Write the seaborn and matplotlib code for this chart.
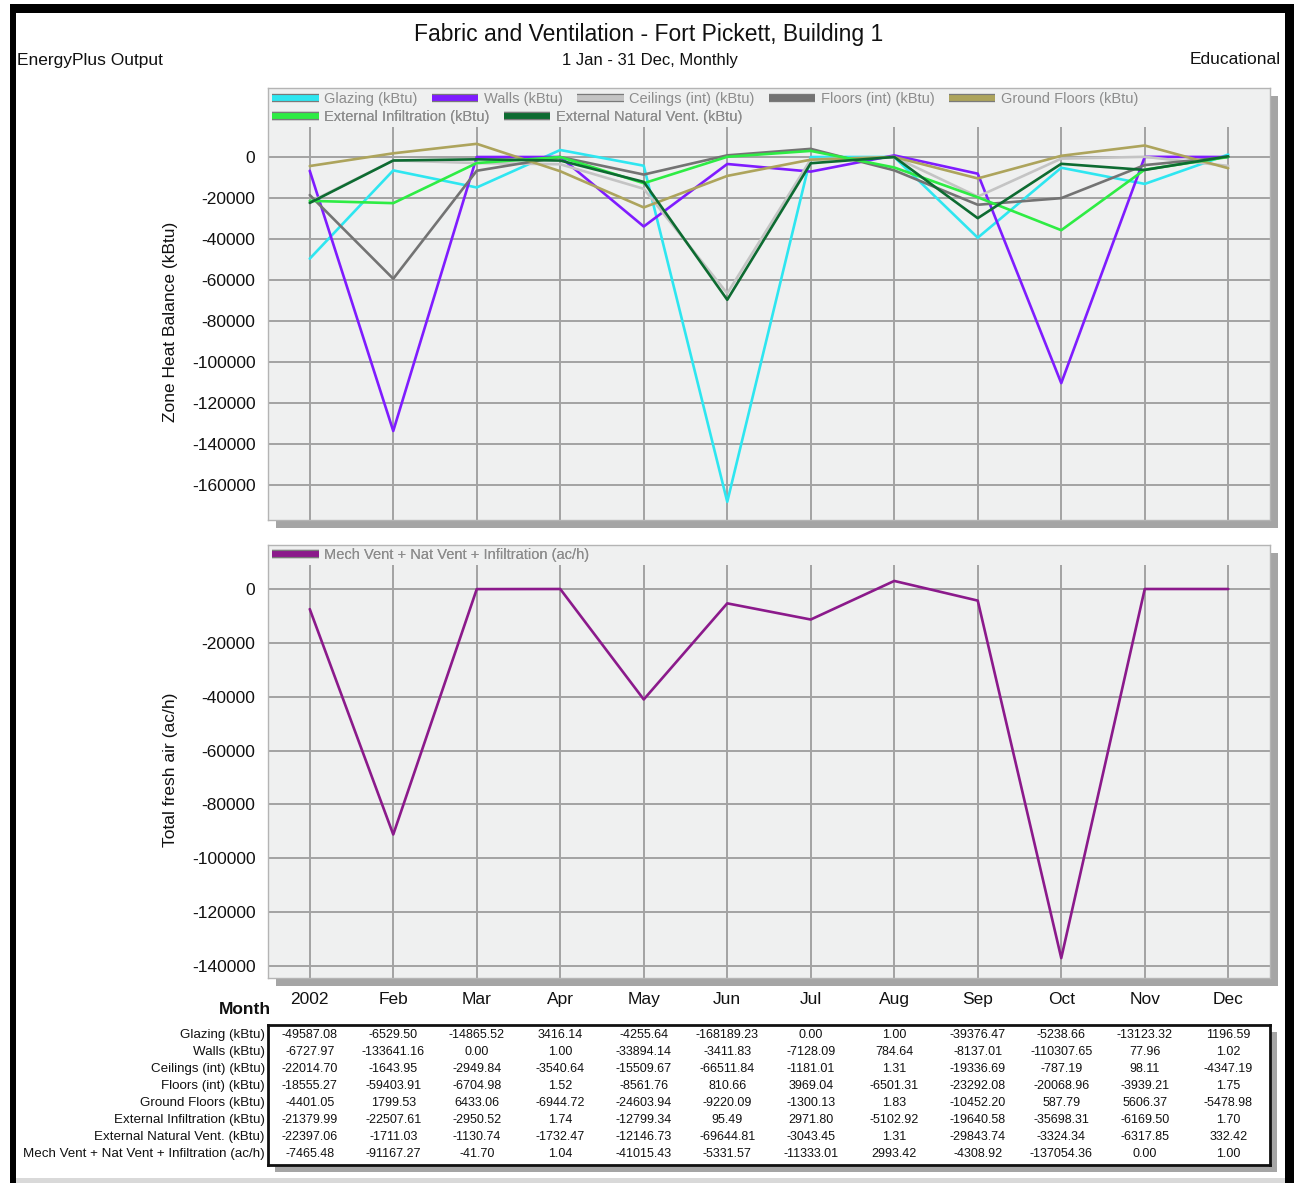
import matplotlib
matplotlib.use("Agg")
import matplotlib.pyplot as plt
import matplotlib.patheffects as pe
from matplotlib.patches import Rectangle
from matplotlib.lines import Line2D
from matplotlib.transforms import blended_transform_factory
import pandas as pd
import seaborn as sns

# ---- data -------------------------------------------------------------
months = ["2002", "Feb", "Mar", "Apr", "May", "Jun", "Jul", "Aug", "Sep", "Oct", "Nov", "Dec"]

glazing = [-49587.08, -6529.50, -14865.52, 3416.14, -4255.64, -168189.23,
           0.00, 1.00, -39376.47, -5238.66, -13123.32, 1196.59]
walls = [-6727.97, -133641.16, 0.00, 1.00, -33894.14, -3411.83,
         -7128.09, 784.64, -8137.01, -110307.65, 77.96, 1.02]
ceilings = [-22014.70, -1643.95, -2949.84, -3540.64, -15509.67, -66511.84,
            -1181.01, 1.31, -19336.69, -787.19, 98.11, -4347.19]
floors = [-18555.27, -59403.91, -6704.98, 1.52, -8561.76, 810.66,
          3969.04, -6501.31, -23292.08, -20068.96, -3939.21, 1.75]
ground_floors = [-4401.05, 1799.53, 6433.06, -6944.72, -24603.94, -9220.09,
                 -1300.13, 1.83, -10452.20, 587.79, 5606.37, -5478.98]
ext_infiltration = [-21379.99, -22507.61, -2950.52, 1.74, -12799.34, 95.49,
                    2971.80, -5102.92, -19640.58, -35698.31, -6169.50, 1.70]
ext_nat_vent = [-22397.06, -1711.03, -1130.74, -1732.47, -12146.73, -69644.81,
                -3043.45, 1.31, -29843.74, -3324.34, -6317.85, 332.42]
fresh_air = [-7465.48, -91167.27, -41.70, 1.04, -41015.43, -5331.57,
             -11333.01, 2993.42, -4308.92, -137054.36, 0.00, 1.00]

top_names = ["Glazing (kBtu)", "Walls (kBtu)", "Ceilings (int) (kBtu)", "Floors (int) (kBtu)",
             "Ground Floors (kBtu)", "External Infiltration (kBtu)", "External Natural Vent. (kBtu)"]
top_series = [glazing, walls, ceilings, floors, ground_floors, ext_infiltration, ext_nat_vent]
bottom_name = "Mech Vent + Nat Vent + Infiltration (ac/h)"

top_colors = ["#2ee6f0", "#7f1cff", "#c4c4c4", "#737373", "#ada45c", "#2eec44", "#0d6b31"]
bottom_color = "#8b1a8b"

# ---- style ------------------------------------------------------------
W, H = 1294, 1183
BG = "#eff0f0"
GRID = "#a2a2a2"
sns.set_theme(style="whitegrid")
plt.rcParams["font.family"] = ["Liberation Sans", "DejaVu Sans"]
plt.rcParams["axes.facecolor"] = BG

fig = plt.figure(figsize=(W / 100, H / 100), dpi=100)
fig.patch.set_facecolor("white")


def rect(x0, y0, x1, y1):
    return [x0 / W, 1 - y1 / H, (x1 - x0) / W, (y1 - y0) / H]


def fig_rect(x0, y0, x1, y1, color, z=-1):
    r = Rectangle((x0 / W, 1 - y1 / H), (x1 - x0) / W, (y1 - y0) / H,
                  transform=fig.transFigure, facecolor=color, edgecolor="none", zorder=z)
    fig.patches.append(r)


def shadow(x0, y0, x1, y1, off=8):
    fig_rect(x0 + off, y0 + off, x1 + off, y1 + off, "#a5a5a5", z=-1)


# outer frame
fig_rect(10, 4, 1294, 13, "black", z=10)
fig_rect(10, 4, 16, 1183, "black", z=10)
fig_rect(1285, 4, 1294, 1183, "black", z=10)
fig_rect(16, 1178, 1285, 1183, "#d9d9d9", z=10)

# header texts
fig.text(649 / W, 1 - 34 / H, "Fabric and Ventilation - Fort Pickett, Building 1",
         ha="center", va="center", fontsize=16.5, color="#111111")
fig.text(650 / W, 1 - 60 / H, "1 Jan - 31 Dec, Monthly",
         ha="center", va="center", fontsize=12, color="#111111")
fig.text(17 / W, 1 - 60 / H, "EnergyPlus Output", ha="left", va="center",
         fontsize=12.5, color="#111111")
fig.text(1281 / W, 1 - 60 / H, "Educational", ha="right", va="center",
         fontsize=12.5, color="#111111")


def style_axes(ax, ylim, yticks):
    ax.set_xlim(-0.5, 11.5)
    ax.set_ylim(*ylim)
    ax.set_xticks(range(12))
    ax.set_yticks(yticks)
    ax.set_yticklabels([f"{int(v)}" for v in yticks])
    ax.set_axisbelow(True)
    ax.grid(True, color=GRID, linewidth=1.4)
    for s in ax.spines.values():
        s.set_color("#b4b4b4")
        s.set_linewidth(1.0)
    ax.tick_params(axis="both", length=7, width=1.4, color=GRID,
                   labelsize=12.5, labelcolor="#111111", pad=4)
    ax.tick_params(axis="y", length=5)
    ax.set_xlabel("")


def legend_strip(ax, frac):
    ax.add_patch(Rectangle((0, 1 - frac), 1, frac, transform=ax.transAxes,
                           facecolor=BG, edgecolor="none", zorder=1))


def add_legend(ax, names, colors, y_axes):
    handles = [Line2D([0], [0], color=c, linewidth=4.2, solid_capstyle="butt",
                      path_effects=[pe.Stroke(linewidth=6, foreground="#7a7a7a",
                                              capstyle="butt"), pe.Normal()])
               for c in colors]
    leg = ax.legend(handles, names, loc="center left", bbox_to_anchor=(4 / 1002, y_axes),
                    ncol=len(names), frameon=False, fontsize=10.5, handlelength=3.2,
                    handletextpad=0.4, columnspacing=0.95, borderpad=0, borderaxespad=0,
                    labelcolor="#8c8c8c")
    leg.set_zorder(6)
    ax.add_artist(leg)
    return leg


# ---- top panel: zone heat balance ------------------------------------
top_df = pd.concat(
    [pd.DataFrame({"month": range(12), "value": vals, "series": name})
     for name, vals in zip(top_names, top_series)],
    ignore_index=True)

ax1 = fig.add_axes(rect(268, 88, 1270, 520))
shadow(268, 88, 1270, 520)
sns.lineplot(data=top_df, x="month", y="value", hue="series", hue_order=top_names,
             palette=top_colors, linewidth=1.9, legend=False, sort=False, ax=ax1)
style_axes(ax1, (-177070, 33660), list(range(0, -160001, -20000)))
ax1.set_xticklabels([])
ax1.set_ylabel("Zone Heat Balance (kBtu)", fontsize=12.5, color="#111111")
ax1.yaxis.set_label_coords(-0.09, 0.458)
legend_strip(ax1, 39 / 432)
add_legend(ax1, top_names[:5], top_colors[:5], 1 - 11 / 432)
add_legend(ax1, top_names[5:], top_colors[5:], 1 - 29 / 432)

# ---- bottom panel: total fresh air -----------------------------------
bot_df = pd.DataFrame({"month": range(12), "value": fresh_air, "series": bottom_name})

ax2 = fig.add_axes(rect(268, 545, 1270, 978))
shadow(268, 545, 1270, 978)
sns.lineplot(data=bot_df, x="month", y="value", color=bottom_color, linewidth=1.9,
             legend=False, sort=False, ax=ax2)
style_axes(ax2, (-144456, 16340), list(range(0, -140001, -20000)))
ax2.set_xticklabels(months)
ax2.tick_params(axis="x", pad=3)
ax2.set_ylabel("Total fresh air (ac/h)", fontsize=12.5, color="#111111")
ax2.yaxis.set_label_coords(-0.09, 0.48)
legend_strip(ax2, 20 / 433)
add_legend(ax2, [bottom_name], [bottom_color], 1 - 10 / 433)

fig.text(245 / W, 1 - 1010 / H, "Month", ha="center", va="center",
         fontsize=12.5, fontweight="bold", color="#111111")

# ---- data table -------------------------------------------------------
table_rows = top_names + [bottom_name]
table_vals = top_series + [fresh_air]

ax3 = fig.add_axes(rect(268, 1025, 1270, 1165))
shadow(268, 1025, 1270, 1165, off=7)
ax3.set_facecolor("white")
ax3.set_xlim(-0.5, 11.5)
ax3.set_ylim(7.647, -0.588)
ax3.set_xticks([])
ax3.set_yticks([])
ax3.grid(False)
for s in ax3.spines.values():
    s.set_color("#111111")
    s.set_linewidth(2.0)

label_tf = blended_transform_factory(ax3.transAxes, ax3.transData)
for i, (name, vals) in enumerate(zip(table_rows, table_vals)):
    ax3.text(-0.003, i, name, transform=label_tf, ha="right", va="center",
             fontsize=9.6, color="#111111", clip_on=False)
    for m, v in enumerate(vals):
        ax3.text(m, i, f"{v:.2f}", ha="center", va="center", fontsize=9, color="#111111")

fig.savefig("out.png", dpi=100, facecolor=fig.get_facecolor())
